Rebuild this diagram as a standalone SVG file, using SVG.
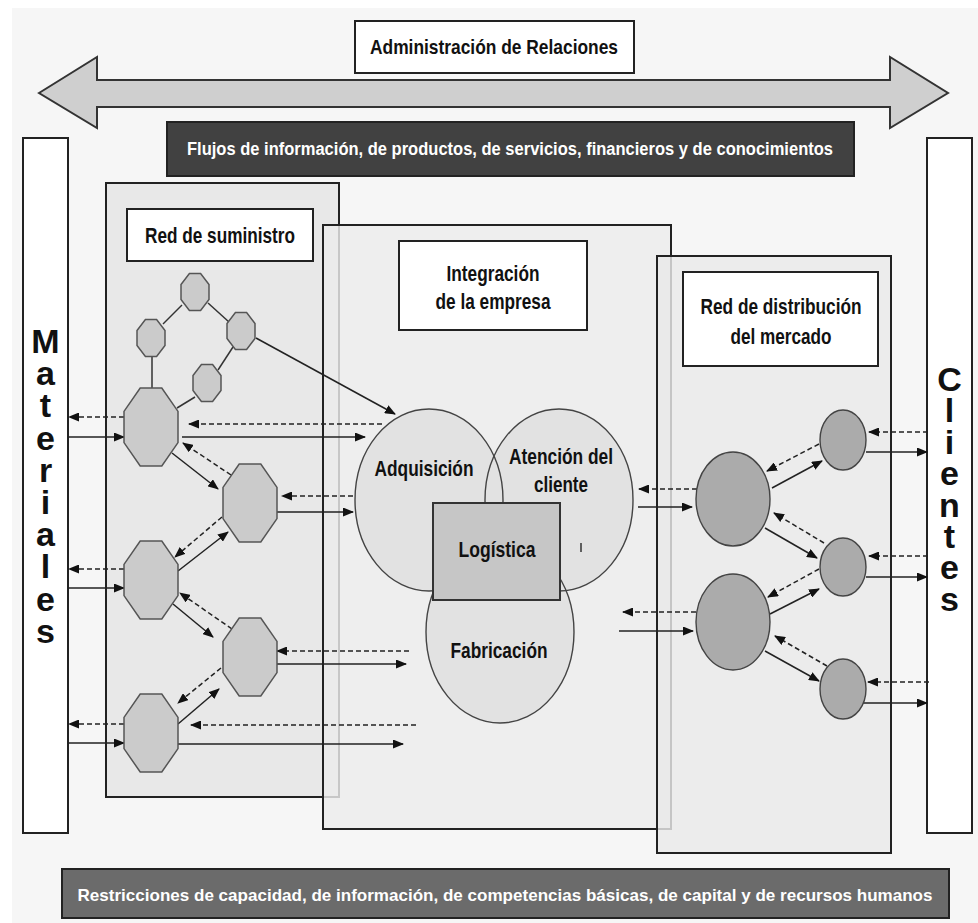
<svg xmlns="http://www.w3.org/2000/svg" width="978" height="923" viewBox="0 0 978 923">
<defs>
<marker id="ah" markerUnits="userSpaceOnUse" markerWidth="11" markerHeight="9" refX="10" refY="4.5" orient="auto">
<path d="M0,0 L11,4.5 L0,9 z" fill="#111"/>
</marker>
<style>
.t{font-family:"Liberation Sans Narrow","Liberation Sans",Arial,sans-serif;font-weight:bold;fill:#111;text-anchor:middle}
.w{fill:#fff}
.box{fill:#fff;stroke:#222;stroke-width:2}
.panel{stroke:#222;stroke-width:2}
.oct{fill:#cbcbcb;stroke:#555;stroke-width:1.5}
.rc{fill:#ababab;stroke:#444;stroke-width:1.4}
.cc{fill:#e2e2e2}
.cs{fill:none;stroke:#444;stroke-width:1.4}
.s{stroke:#222;stroke-width:1.5;fill:none;marker-end:url(#ah)}
.d{stroke:#222;stroke-width:1.5;fill:none;stroke-dasharray:5,3;marker-end:url(#ah)}
.ln{stroke:#333;stroke-width:1.5;fill:none}
.vert{font-family:"Liberation Sans",Arial,sans-serif;font-weight:bold;fill:#111;font-size:34px;writing-mode:vertical-rl;text-orientation:upright}
</style>
</defs>
<rect x="0" y="0" width="978" height="923" fill="#fff"/>
<rect x="12" y="8" width="966" height="915" fill="#f6f6f6"/>

<g id="arrow-relaciones">
<polygon points="39,93 97,57 97,80 890,80 890,57 948,93 890,128 890,107 97,107 97,128" fill="#cfcfcf" stroke="#333" stroke-width="2" stroke-linejoin="miter"/>
</g>
<g id="admin-relaciones">
<rect class="box" x="355" y="21" width="279" height="52"/>
<text class="t" x="494" y="54" font-size="21" textLength="248" lengthAdjust="spacingAndGlyphs">Administración de Relaciones</text>
</g>
<g id="flujos">
<rect x="167" y="122" width="687" height="54" fill="#414141" stroke="#222" stroke-width="2"/>
<text class="t w" x="510" y="155" font-size="18" textLength="646" lengthAdjust="spacingAndGlyphs">Flujos de información, de productos, de servicios, financieros y de conocimientos</text>
</g>

<g id="materiales">
<rect class="box" x="23" y="138" width="45" height="695"/>
<text class="vert" x="45.5" y="322" letter-spacing="-5.8">Materiales</text>
</g>
<g id="clientes">
<rect class="box" x="927" y="138" width="45" height="695"/>
<text class="vert" x="949.5" y="360" letter-spacing="-6.6">Clientes</text>
</g>

<g id="red-suministro">
<rect class="panel" x="106" y="183" width="233" height="614" fill="#e8e8e8"/>
</g>
<g id="integracion">
<rect class="panel" x="323" y="225" width="348" height="604" fill="#ececec" fill-opacity="0.82"/>
</g>
<g id="red-distribucion">
<rect class="panel" x="657" y="256" width="234" height="597" fill="#e9e9e9" fill-opacity="0.82"/>
</g>

<g id="label-suministro">
<rect class="box" x="127" y="209" width="186" height="52"/>
<text class="t" x="220" y="243" font-size="22" textLength="150" lengthAdjust="spacingAndGlyphs">Red de suministro</text>
</g>
<g id="label-integracion">
<rect class="box" x="399" y="241" width="188" height="89"/>
<text class="t" x="493" y="281" font-size="22" textLength="93" lengthAdjust="spacingAndGlyphs">Integración</text>
<text class="t" x="493" y="309" font-size="22" textLength="115" lengthAdjust="spacingAndGlyphs">de la empresa</text>
</g>
<g id="label-distribucion">
<rect class="box" x="683" y="272" width="195" height="94"/>
<text class="t" x="781" y="314" font-size="22" textLength="161" lengthAdjust="spacingAndGlyphs">Red de distribución</text>
<text class="t" x="781" y="344" font-size="22" textLength="101" lengthAdjust="spacingAndGlyphs">del mercado</text>
</g>

<g id="circulos-empresa">
<ellipse class="cc" cx="429" cy="500" rx="74" ry="91"/>
<ellipse class="cc" cx="559" cy="500" rx="74" ry="91"/>
<ellipse class="cc" cx="500" cy="632" rx="74" ry="91"/>
<ellipse class="cs" cx="429" cy="500" rx="74" ry="91"/>
<ellipse class="cs" cx="559" cy="500" rx="74" ry="91"/>
<ellipse class="cs" cx="500" cy="632" rx="74" ry="91"/>
</g>
<g id="adquisicion">
<text class="t" x="424" y="476" font-size="22" textLength="99" lengthAdjust="spacingAndGlyphs">Adquisición</text>
</g>
<g id="atencion">
<text class="t" x="561" y="464" font-size="22" textLength="104" lengthAdjust="spacingAndGlyphs">Atención del</text>
<text class="t" x="561" y="492" font-size="22" textLength="54" lengthAdjust="spacingAndGlyphs">cliente</text>
<line x1="581" y1="543" x2="581" y2="552" stroke="#333" stroke-width="1.5"/>
</g>
<g id="fabricacion">
<text class="t" x="499" y="658" font-size="22" textLength="97" lengthAdjust="spacingAndGlyphs">Fabricación</text>
</g>
<g id="logistica">
<rect x="433" y="503" width="127" height="97" fill="#c6c6c6" stroke="#333" stroke-width="2"/>
<text class="t" x="497" y="557" font-size="22" textLength="77" lengthAdjust="spacingAndGlyphs">Logística</text>
</g>

<g id="connectors">
<line class="ln" x1="182" y1="305" x2="163" y2="324"/>
<line class="ln" x1="208" y1="303" x2="229" y2="322"/>
<line class="ln" x1="152" y1="357" x2="152" y2="388"/>
<line class="ln" x1="233" y1="347" x2="218" y2="370"/>
<line class="ln" x1="195" y1="397" x2="177" y2="408"/>
<line class="s" x1="256" y1="338" x2="395" y2="414"/>
<line class="d" x1="124" y1="417" x2="69" y2="417"/>
<line class="s" x1="68" y1="437" x2="124" y2="437"/>
<line class="d" x1="382" y1="424" x2="189" y2="424"/>
<line class="s" x1="182" y1="437" x2="365" y2="437"/>
<line class="s" x1="172" y1="453" x2="218" y2="489"/>
<line class="d" x1="231" y1="475" x2="183" y2="443"/>
<line class="d" x1="353" y1="496" x2="282" y2="496"/>
<line class="s" x1="277" y1="512" x2="353" y2="512"/>
<line class="d" x1="222" y1="517" x2="175" y2="557"/>
<line class="s" x1="178" y1="571" x2="228" y2="532"/>
<line class="d" x1="124" y1="569" x2="69" y2="569"/>
<line class="s" x1="68" y1="588" x2="124" y2="588"/>
<line class="s" x1="173" y1="604" x2="213" y2="637"/>
<line class="d" x1="232" y1="629" x2="180" y2="593"/>
<line class="d" x1="409" y1="651" x2="277" y2="651"/>
<line class="s" x1="277" y1="664" x2="406" y2="664"/>
<line class="d" x1="221" y1="668" x2="178" y2="703"/>
<line class="s" x1="178" y1="724" x2="219" y2="689"/>
<line class="d" x1="124" y1="724" x2="69" y2="724"/>
<line class="s" x1="68" y1="743" x2="124" y2="743"/>
<line class="d" x1="416" y1="725" x2="191" y2="725"/>
<line class="s" x1="178" y1="744" x2="403" y2="744"/>
<line class="d" x1="928" y1="432" x2="869" y2="432"/>
<line class="s" x1="866" y1="452" x2="927" y2="452"/>
<line class="d" x1="819" y1="444" x2="767" y2="471"/>
<line class="s" x1="772" y1="488" x2="822" y2="461"/>
<line class="d" x1="697" y1="489" x2="639" y2="489"/>
<line class="s" x1="638" y1="507" x2="692" y2="507"/>
<line class="s" x1="765" y1="528" x2="817" y2="558"/>
<line class="d" x1="824" y1="543" x2="774" y2="513"/>
<line class="d" x1="928" y1="556" x2="869" y2="556"/>
<line class="s" x1="866" y1="577" x2="927" y2="577"/>
<line class="d" x1="819" y1="569" x2="768" y2="597"/>
<line class="s" x1="770" y1="614" x2="819" y2="589"/>
<line class="d" x1="696" y1="612" x2="623" y2="612"/>
<line class="s" x1="619" y1="631" x2="693" y2="631"/>
<line class="s" x1="765" y1="651" x2="819" y2="681"/>
<line class="d" x1="827" y1="666" x2="775" y2="636"/>
<line class="d" x1="929" y1="682" x2="868" y2="682"/>
<line class="s" x1="863" y1="703" x2="927" y2="703"/>
</g>

<g id="oct-top"><polygon class="oct" points="189.4,273.5 200.6,273.5 209,284.6 209,299.4 200.6,310.5 189.4,310.5 181,299.4 181,284.6"/></g>
<g id="oct-left"><polygon class="oct" points="145.4,319.5 156.6,319.5 165,330.6 165,345.4 156.6,356.5 145.4,356.5 137,345.4 137,330.6"/></g>
<g id="oct-right"><polygon class="oct" points="235.4,312.5 246.6,312.5 255,323.6 255,338.4 246.6,349.5 235.4,349.5 227,338.4 227,323.6"/></g>
<g id="oct-mid"><polygon class="oct" points="201.4,364.5 212.6,364.5 221,375.6 221,390.4 212.6,401.5 201.4,401.5 193,390.4 193,375.6"/></g>
<g id="oct-1"><polygon class="oct" points="140.2,388 161.8,388 178,411.4 178,442.6 161.8,466 140.2,466 124,442.6 124,411.4"/></g>
<g id="oct-2"><polygon class="oct" points="239.2,464 260.8,464 277,487.4 277,518.6 260.8,542 239.2,542 223,518.6 223,487.4"/></g>
<g id="oct-3"><polygon class="oct" points="140.2,541 161.8,541 178,564.4 178,595.6 161.8,619 140.2,619 124,595.6 124,564.4"/></g>
<g id="oct-4"><polygon class="oct" points="239.2,618 260.8,618 277,641.4 277,672.6 260.8,696 239.2,696 223,672.6 223,641.4"/></g>
<g id="oct-5"><polygon class="oct" points="140.2,694 161.8,694 178,717.4 178,748.6 161.8,772 140.2,772 124,748.6 124,717.4"/></g>

<g id="dist-1"><ellipse class="rc" cx="733" cy="499" rx="37" ry="47"/></g>
<g id="dist-2"><ellipse class="rc" cx="733" cy="622" rx="37" ry="48"/></g>
<g id="cli-1"><ellipse class="rc" cx="843" cy="440" rx="23" ry="30"/></g>
<g id="cli-2"><ellipse class="rc" cx="843" cy="567" rx="23" ry="29"/></g>
<g id="cli-3"><ellipse class="rc" cx="843" cy="689" rx="23" ry="30"/></g>

<g id="restricciones">
<rect x="62" y="869" width="887" height="49" fill="#6b6b6b" stroke="#222" stroke-width="2"/>
<text class="t w" x="505" y="901" font-size="17" textLength="855" lengthAdjust="spacingAndGlyphs">Restricciones de capacidad, de información, de competencias básicas, de capital y de recursos humanos</text>
</g>
</svg>
